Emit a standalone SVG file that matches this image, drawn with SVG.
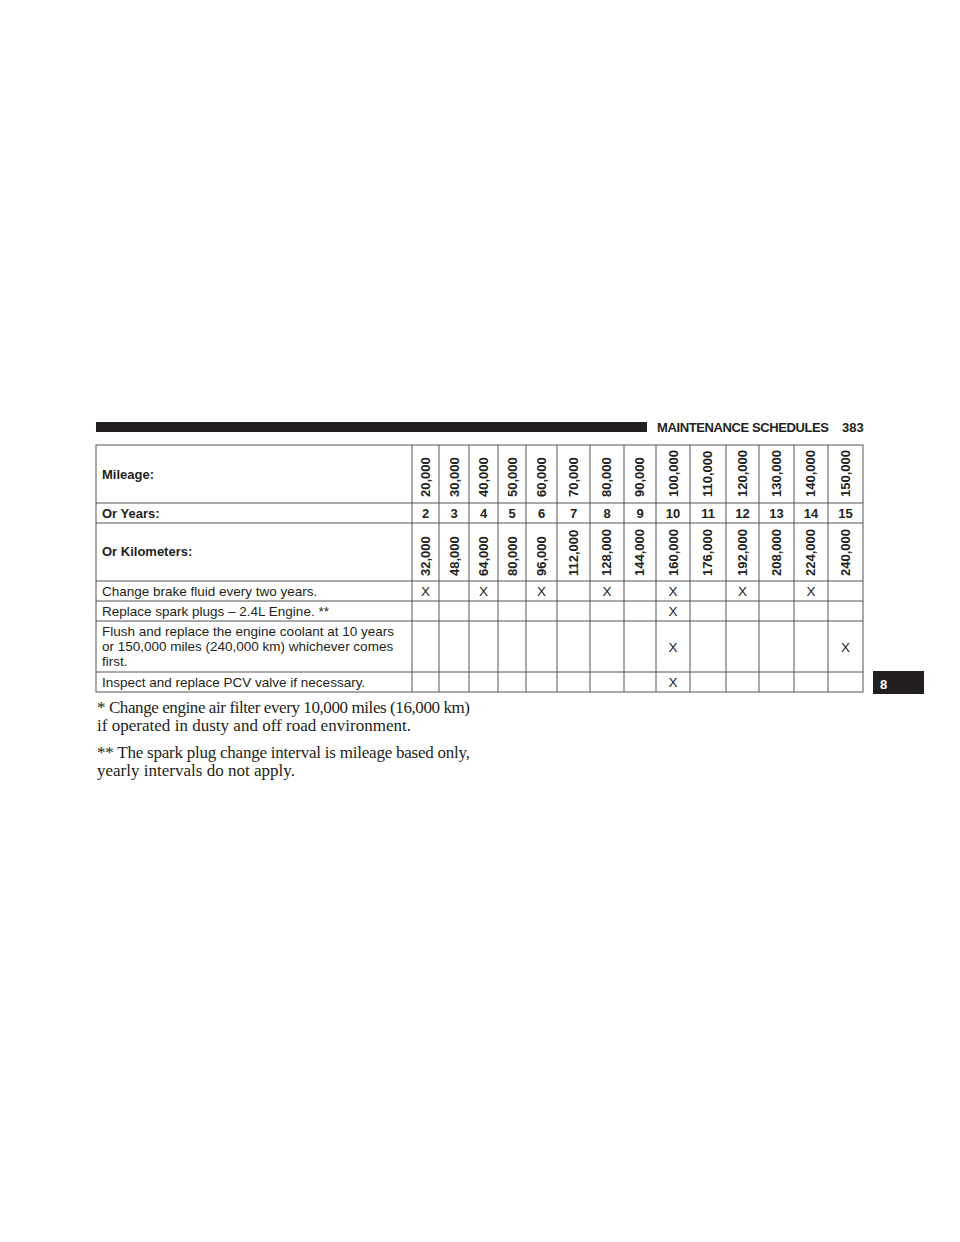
<svg xmlns="http://www.w3.org/2000/svg" width="960" height="1242" viewBox="0 0 960 1242">
<style>
.t{font-family:"Liberation Sans",Arial,sans-serif;font-size:13px;fill:#231f20}
.n{font-size:13.5px}
.b{font-weight:bold}
.c{text-anchor:middle}
.f{font-family:"Liberation Serif","Times New Roman",serif;font-size:17px;fill:#231f20}
.g line{stroke:#555;stroke-width:1}
</style>
<rect width="960" height="1242" fill="#fff"/>
<rect x="96" y="422" width="551" height="10" fill="#231f20"/>
<text x="657" y="432" class="t b" font-size="12" textLength="172">MAINTENANCE SCHEDULES</text>
<text x="842" y="432" class="t b" font-size="12">383</text>
<g id="table">
<rect x="96" y="445" width="767" height="247" fill="none" stroke="#555"/>
<g class="g">
<line x1="96" y1="503" x2="863" y2="503"/><line x1="96" y1="523" x2="863" y2="523"/>
<line x1="96" y1="581" x2="863" y2="581"/><line x1="96" y1="601" x2="863" y2="601"/>
<line x1="96" y1="621" x2="863" y2="621"/><line x1="96" y1="672" x2="863" y2="672"/>
<line x1="412" y1="445" x2="412" y2="692"/><line x1="439" y1="445" x2="439" y2="692"/>
<line x1="469" y1="445" x2="469" y2="692"/><line x1="498" y1="445" x2="498" y2="692"/>
<line x1="526" y1="445" x2="526" y2="692"/><line x1="557" y1="445" x2="557" y2="692"/>
<line x1="590" y1="445" x2="590" y2="692"/><line x1="624" y1="445" x2="624" y2="692"/>
<line x1="656" y1="445" x2="656" y2="692"/><line x1="690" y1="445" x2="690" y2="692"/>
<line x1="726" y1="445" x2="726" y2="692"/><line x1="759" y1="445" x2="759" y2="692"/>
<line x1="794" y1="445" x2="794" y2="692"/><line x1="828" y1="445" x2="828" y2="692"/>
</g>
<text x="102" y="479" class="t b">Mileage:</text>
<text x="102" y="518" class="t b">Or Years:</text>
<text x="102" y="556" class="t b">Or Kilometers:</text>
<text x="102" y="596" class="t n">Change brake fluid every two years.</text>
<text x="102" y="616" class="t n">Replace spark plugs – 2.4L Engine. **</text>
<text x="102" y="636" class="t n">Flush and replace the engine coolant at 10 years</text>
<text x="102" y="651" class="t n">or 150,000 miles (240,000 km) whichever comes</text>
<text x="102" y="666" class="t n">first.</text>
<text x="102" y="687" class="t n">Inspect and replace PCV valve if necessary.</text>
<g class="t b">
<text transform="translate(430,497) rotate(-90)">20,000</text>
<text transform="translate(459,497) rotate(-90)">30,000</text>
<text transform="translate(488,497) rotate(-90)">40,000</text>
<text transform="translate(517,497) rotate(-90)">50,000</text>
<text transform="translate(546,497) rotate(-90)">60,000</text>
<text transform="translate(578,497) rotate(-90)">70,000</text>
<text transform="translate(611,497) rotate(-90)">80,000</text>
<text transform="translate(644,497) rotate(-90)">90,000</text>
<text transform="translate(678,497) rotate(-90)">100,000</text>
<text transform="translate(712,497) rotate(-90)">110,000</text>
<text transform="translate(747,497) rotate(-90)">120,000</text>
<text transform="translate(781,497) rotate(-90)">130,000</text>
<text transform="translate(815,497) rotate(-90)">140,000</text>
<text transform="translate(850,497) rotate(-90)">150,000</text>
<text transform="translate(430,576) rotate(-90)">32,000</text>
<text transform="translate(459,576) rotate(-90)">48,000</text>
<text transform="translate(488,576) rotate(-90)">64,000</text>
<text transform="translate(517,576) rotate(-90)">80,000</text>
<text transform="translate(546,576) rotate(-90)">96,000</text>
<text transform="translate(578,576) rotate(-90)">112,000</text>
<text transform="translate(611,576) rotate(-90)">128,000</text>
<text transform="translate(644,576) rotate(-90)">144,000</text>
<text transform="translate(678,576) rotate(-90)">160,000</text>
<text transform="translate(712,576) rotate(-90)">176,000</text>
<text transform="translate(747,576) rotate(-90)">192,000</text>
<text transform="translate(781,576) rotate(-90)">208,000</text>
<text transform="translate(815,576) rotate(-90)">224,000</text>
<text transform="translate(850,576) rotate(-90)">240,000</text>
</g>
<g class="t b c">
<text x="425.5" y="518">2</text><text x="454" y="518">3</text><text x="483.5" y="518">4</text>
<text x="512" y="518">5</text><text x="541.5" y="518">6</text><text x="573.5" y="518">7</text>
<text x="607" y="518">8</text><text x="640" y="518">9</text><text x="673" y="518">10</text>
<text x="708" y="518">11</text><text x="742.5" y="518">12</text><text x="776.5" y="518">13</text>
<text x="811" y="518">14</text><text x="845.5" y="518">15</text>
</g>
<g class="t n c">
<text x="425.5" y="596">X</text><text x="483.5" y="596">X</text><text x="541.5" y="596">X</text>
<text x="607" y="596">X</text><text x="673" y="596">X</text><text x="742.5" y="596">X</text>
<text x="811" y="596">X</text>
<text x="673" y="616">X</text>
<text x="673" y="652">X</text><text x="845.5" y="652">X</text>
<text x="673" y="687">X</text>
</g>
</g>
<text x="97" y="713" class="f" textLength="373">* Change engine air filter every 10,000 miles (16,000 km)</text>
<text x="97" y="731" class="f" textLength="314">if operated in dusty and off road environment.</text>
<text x="97" y="758" class="f" textLength="373">** The spark plug change interval is mileage based only,</text>
<text x="97" y="776" class="f" textLength="198">yearly intervals do not apply.</text>
<rect x="873" y="671" width="51" height="23" fill="#231f20"/>
<text x="880" y="689" class="t b" font-size="15" style="fill:#fff">8</text>
</svg>
